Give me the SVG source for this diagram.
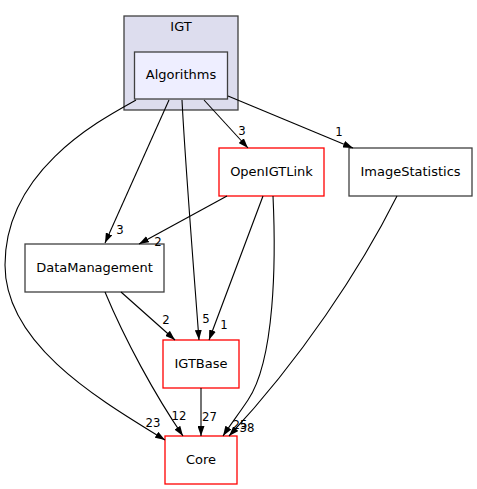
<svg xmlns="http://www.w3.org/2000/svg" width="477" height="489" viewBox="0 0 477 489">
<defs>
<style>
text{font-family:"DejaVu Sans","Liberation Sans",sans-serif;font-size:13px;fill:#000;text-anchor:middle}
text.lbl{font-size:11.7px}
.node{fill:#fff;stroke:#404040;stroke-width:1.3}
.red{fill:#fff;stroke:#ff0000;stroke-width:1.3}
.edge{fill:none;stroke:#000;stroke-width:1.1}
</style>
<marker id="ah" viewBox="0 0 10 7" refX="10" refY="3.5" markerWidth="10" markerHeight="7" markerUnits="userSpaceOnUse" orient="auto">
<path d="M0,0 L10,3.5 L0,7 z" fill="#000"/>
</marker>
</defs>
<rect width="477" height="489" fill="#fff"/>
<g id="cluster_IGT">
<rect x="124" y="16" width="114" height="94" fill="#ddddee" stroke="#404040" stroke-width="1.3"/>
<text x="181" y="31">IGT</text>
</g>
<g id="node_Algorithms">
<rect x="134.5" y="52" width="93" height="47" fill="#eeeeff" stroke="#404040" stroke-width="1.3"/>
<text x="181" y="79">Algorithms</text>
</g>
<g id="node_OpenIGTLink">
<rect class="red" x="219" y="148" width="105" height="48"/>
<text x="271.5" y="176">OpenIGTLink</text>
</g>
<g id="node_ImageStatistics">
<rect class="node" x="349" y="148" width="123" height="48"/>
<text x="410.5" y="176">ImageStatistics</text>
</g>
<g id="node_DataManagement">
<rect class="node" x="25" y="244" width="139" height="48"/>
<text x="94.5" y="272">DataManagement</text>
</g>
<g id="node_IGTBase">
<rect class="red" x="163" y="340" width="76" height="48"/>
<text x="201" y="368">IGTBase</text>
</g>
<g id="node_Core">
<rect class="red" x="165" y="436" width="72" height="48"/>
<text x="201" y="464">Core</text>
</g>
<g id="connectors">
<path class="edge" marker-end="url(#ah)" d="M136,100 C100,120 5,170 5,265 C5,345 100,400 165,440"/>
<text class="lbl" x="153" y="427">23</text>
<path class="edge" marker-end="url(#ah)" d="M169,100 L105,243"/>
<text class="lbl" x="120" y="234">3</text>
<path class="edge" marker-end="url(#ah)" d="M182,100 C185,160 193,260 199,340"/>
<text class="lbl" x="206" y="323">5</text>
<path class="edge" marker-end="url(#ah)" d="M204,100 L248,148"/>
<text class="lbl" x="242" y="135">3</text>
<path class="edge" marker-end="url(#ah)" d="M228,96 L353,148"/>
<text class="lbl" x="339" y="136">1</text>
<path class="edge" marker-end="url(#ah)" d="M227,196 L139,244"/>
<text class="lbl" x="158" y="246">2</text>
<path class="edge" marker-end="url(#ah)" d="M263,196 L209,340"/>
<text class="lbl" x="224" y="329">1</text>
<path class="edge" marker-end="url(#ah)" d="M273,196 C276,260 275,360 248,400 C238,415 230,425 223,436"/>
<text class="lbl" x="240" y="429">25</text>
<path class="edge" marker-end="url(#ah)" d="M397,196 C360,270 300,360 229,436"/>
<text class="lbl" x="247" y="432">38</text>
<path class="edge" marker-end="url(#ah)" d="M121,292 L175,340"/>
<text class="lbl" x="166" y="324">2</text>
<path class="edge" marker-end="url(#ah)" d="M105,292 C125,340 155,395 183,436"/>
<text class="lbl" x="179" y="420">12</text>
<path class="edge" marker-end="url(#ah)" d="M201,388 L201,436"/>
<text class="lbl" x="209.5" y="421">27</text>
</g>
</svg>
